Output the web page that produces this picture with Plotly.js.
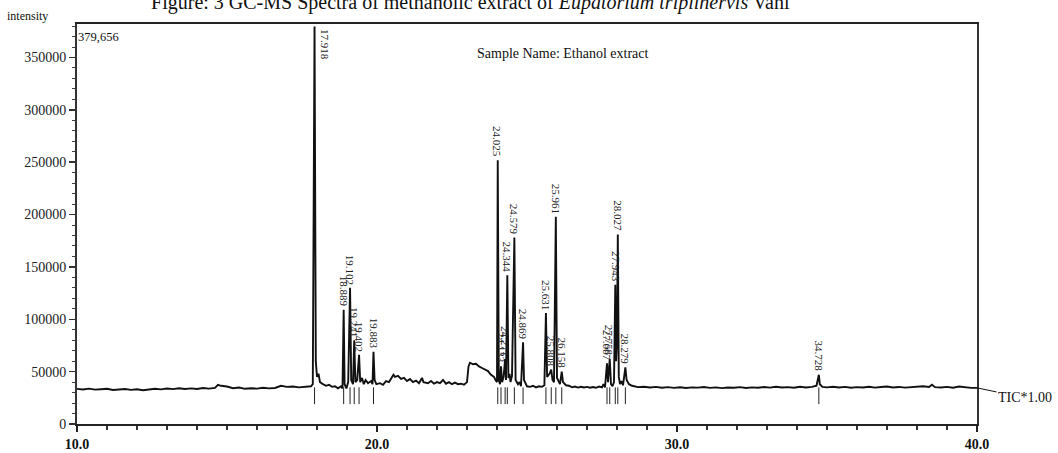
<!DOCTYPE html>
<html>
<head>
<meta charset="utf-8">
<script src="https://cdn.plot.ly/plotly-3.0.1.min.js"></script>
<style>html,body{margin:0;padding:0;background:#fff}#chart{width:1058px;height:453px}</style>
</head>
<body>
<div id="chart"></div>
<script>
// Retention time (min) of the TIC trace
var rt = [10.0,10.2,10.4,10.6,10.8,11.0,11.2,11.4,11.6,11.8,12.0,12.2,12.4,12.6,12.8,13.0,13.2,13.4,13.6,13.8,14.0,14.2,14.4,14.6,14.7,14.8,15.0,15.2,15.4,15.6,15.8,16.0,16.2,16.4,16.6,16.8,17.0,17.2,17.4,17.6,17.8,17.86,17.918,17.96,18.0,18.05,18.1,18.2,18.3,18.4,18.5,18.6,18.7,18.8,18.85,18.889,18.92,18.98,19.04,19.102,19.14,19.2,19.241,19.28,19.34,19.402,19.44,19.5,19.56,19.62,19.7,19.8,19.85,19.883,19.92,19.98,20.1,20.2,20.3,20.4,20.5,20.55,20.6,20.7,20.8,20.9,21.0,21.1,21.2,21.3,21.4,21.5,21.55,21.7,21.8,21.9,22.0,22.1,22.2,22.3,22.4,22.5,22.6,22.7,22.8,22.9,23.0,23.05,23.1,23.2,23.3,23.4,23.5,23.6,23.7,23.8,23.9,23.95,24.0,24.025,24.06,24.1,24.133,24.17,24.22,24.271,24.3,24.344,24.38,24.42,24.45,24.5,24.579,24.62,24.7,24.75,24.8,24.869,24.9,25.0,25.1,25.2,25.3,25.4,25.5,25.58,25.631,25.67,25.75,25.808,25.85,25.9,25.961,26.0,26.05,26.1,26.158,26.2,26.3,26.4,26.5,26.6,26.7,26.8,26.9,27.0,27.1,27.2,27.3,27.4,27.5,27.55,27.6,27.667,27.7,27.758,27.8,27.85,27.9,27.943,27.97,28.0,28.027,28.06,28.1,28.15,28.2,28.279,28.32,28.4,28.5,28.6,
  28.7,28.9,29.1,29.3,29.5,29.7,29.9,30.1,30.3,30.5,
  30.7,30.9,31.1,31.3,31.5,31.7,31.9,32.1,32.3,32.5,
  32.7,32.9,33.1,33.3,33.5,33.7,33.9,34.1,34.3,34.5,
  34.65,34.728,34.76,34.85,
  35.0,35.2,35.4,35.6,35.8,36.0,36.2,36.4,36.6,36.8,37.0,37.2,37.4,37.6,37.8,38.0,38.2,38.4,
  38.5,38.6,38.8,39.0,39.2,39.4,39.6,39.8,40.0];
// Intensity of the TIC trace
var intensity = [33500,33000,33800,32800,33200,33600,32500,33000,33400,32600,33200,32200,33000,33700,33100,33900,33300,34200,33500,34000,33400,34300,33800,34500,37500,36500,35800,34200,34800,33600,34100,33800,34600,34000,34400,36500,35500,35800,35000,35400,36000,38000,379656,60000,45000,48000,40000,38000,36500,37500,35500,36000,34000,36000,34000,109000,38000,34000,40000,130000,42000,38000,80000,40000,42000,66000,40000,44000,38000,42000,39000,41000,38000,69000,42000,38000,39000,37500,41000,40000,44000,47000,45000,46000,43000,44000,41000,43000,40000,41500,39000,44000,40000,39000,41000,38500,40000,39000,42000,38500,40000,38000,39500,38000,38500,37500,40000,55000,58500,57000,57500,55000,53500,52000,50500,47000,45000,42000,40000,252000,42000,38000,55000,40000,45000,62000,42000,142000,44000,48000,40000,46000,178000,42000,38000,40000,36000,78000,42000,36000,35500,36500,35000,36000,35500,37000,106000,45000,48000,52000,42000,40000,198000,44000,40000,38000,50000,40000,37000,36500,35000,35800,34800,35600,34900,35400,34700,35300,34600,35800,34900,38000,35000,58000,40000,62000,38000,36000,40000,133000,60000,80000,181000,45000,38000,41000,37000,54000,42000,38000,36500,36000,
  35200,35600,34800,35400,34600,35200,34500,35100,34400,35000,
  34700,35300,34500,35000,34300,34900,34600,35200,34400,35000,
  34600,35300,34700,35500,34800,35200,34600,35600,34900,35400,
  36500,47000,38000,35500,
  35000,35600,34800,35400,34600,35200,34800,35500,34700,35300,35800,34900,35400,34700,35200,35600,36000,35400,
  37500,35200,34800,35400,34600,35800,35000,34500,34500];

// Labelled peaks
var peakRT = [17.918,18.889,19.102,19.241,19.402,19.883,24.025,24.133,24.271,24.344,24.579,24.869,25.631,25.808,25.961,26.158,27.667,27.758,27.943,28.027,28.279,34.728];
var peakHeight = [379656,109000,130000,80000,66000,69000,252000,55000,62000,142000,178000,78000,106000,52000,198000,50000,58000,62000,133000,181000,54000,47000];
var peakLabel = ["17.918","18.889","19.102","19.241","19.402","19.883","24.025","24.133","24.271","24.344","24.579","24.869","25.631","25.808","25.961","26.158","27.667","27.758","27.943","28.027","28.279","34.728"];
var markLevel = [27000,27000,27000,27000,27000,27000,27000,27000,27000,27000,27000,27000,27000,27000,27000,27000,27000,27000,27000,27000,27000,27000];

var xTickVals = [10,20,30,40];
var xTickText = ["10.0","20.0","30.0","40.0"];
var yMax = 382000;

var serif = "Liberation Serif, Times New Roman, serif";

var traces = [
  {x: rt, y: intensity, type: "scatter", mode: "lines",
   line: {color: "#111", width: 1.9}, hoverinfo: "x+y", showlegend: false},
  {x: peakRT, y: markLevel, type: "scatter", mode: "markers",
   marker: {symbol: "line-ns-open", size: 12, color: "#222", line: {color: "#222", width: 1}},
   showlegend: false, hoverinfo: "skip"}
];

var annotations = [];
for (var i = 0; i < peakRT.length; i++) {
  var over = peakHeight[i] > yMax * 0.95;
  annotations.push({
    x: peakRT[i], y: over ? yMax : peakHeight[i], xref: "x", yref: "y",
    text: peakLabel[i], showarrow: false, textangle: 90,
    xanchor: over ? "left" : "center", yanchor: over ? "top" : "bottom",
    xshift: over ? 3 : 0, yshift: over ? -3 : 1,
    font: {family: serif, size: 11, color: "#222"}
  });
}
annotations.push({xref: "paper", yref: "paper", x: 0.54, y: 0.9275, text: "Sample Name: Ethanol extract",
  showarrow: false, xanchor: "center", yanchor: "middle", font: {family: serif, size: 14, color: "#111"}});
annotations.push({xref: "paper", yref: "paper", x: -0.001, y: 0.9675, text: "379,656",
  showarrow: false, xanchor: "left", yanchor: "middle", font: {family: serif, size: 12.5, color: "#111"}});
annotations.push({xref: "paper", yref: "paper", x: -0.08, y: 1.02, text: "intensity",
  showarrow: false, xanchor: "left", yanchor: "middle", font: {family: serif, size: 12, color: "#111"}});
annotations.push({xref: "x", yref: "y", x: rt[rt.length - 1], y: intensity[intensity.length - 1], text: "TIC*1.00",
  showarrow: true, arrowhead: 0, arrowwidth: 1, arrowcolor: "#111", ax: 48, ay: 10, standoff: 0,
  font: {family: serif, size: 14, color: "#111"}});

var layout = {
  width: 1058, height: 453,
  margin: {l: 77, r: 81, t: 24, b: 29},
  paper_bgcolor: "#fff", plot_bgcolor: "#fff",
  showlegend: false,
  title: {text: "Figure: 3 GC-MS Spectra of methanolic extract of <i>Eupatorium triplinervis</i> Vahl",
    x: 0.437, xanchor: "center", xref: "paper", y: 0.996, yref: "container", yanchor: "middle",
    font: {family: serif, size: 20, color: "#111"}},
  xaxis: {range: [10, 40], tickvals: xTickVals, ticktext: xTickText, showgrid: false, zeroline: false,
    showline: true, linecolor: "#222", linewidth: 2, mirror: true,
    ticks: "outside", ticklen: 6, tickwidth: 2, tickcolor: "#222",
    minor: {dtick: 1, ticks: "outside", ticklen: 4, tickwidth: 1.5, tickcolor: "#333"},
    tickfont: {family: serif, size: 14, color: "#111", weight: "bold"}},
  yaxis: {range: [0, yMax], dtick: 50000, tick0: 0, showgrid: false, zeroline: false,
    showline: true, linecolor: "#333", linewidth: 2, mirror: true,
    ticks: "outside", ticklen: 6, tickwidth: 1.5, tickcolor: "#333",
    tickformat: "d",
    minor: {dtick: 10000, ticks: "outside", ticklen: 3, tickwidth: 1, tickcolor: "#444"},
    tickfont: {family: serif, size: 14, color: "#222"}},
  annotations: annotations
};

Plotly.newPlot("chart", traces, layout, {displayModeBar: false, staticPlot: true});
</script>
</body>
</html>
